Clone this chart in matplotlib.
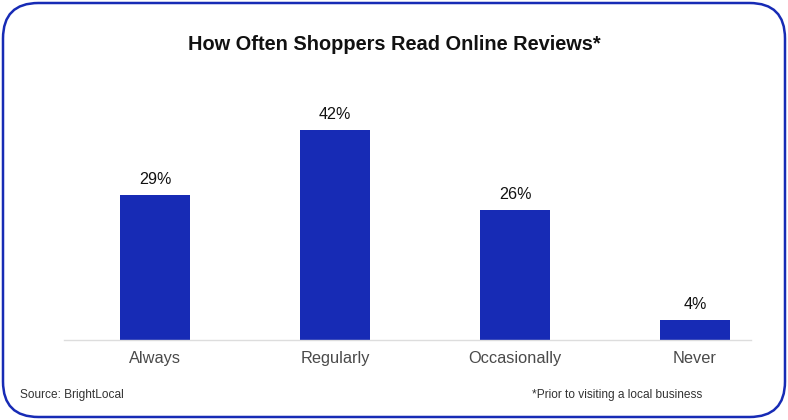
import matplotlib.pyplot as plt
from matplotlib.patches import FancyBboxPatch

categories = ['Always', 'Regularly', 'Occasionally', 'Never']
shares = [29, 42, 26, 4]
value_labels = ['29%', '42%', '26%', '4%']

bar_color = '#172BB5'
plt.rcParams['font.family'] = ['Liberation Sans', 'DejaVu Sans']

fig = plt.figure(figsize=(7.88, 4.2), dpi=100)

# rounded frame around the whole card
frame = FancyBboxPatch((3/788, 3/420), 782/788, 414/420,
                       boxstyle='round,pad=0,rounding_size=0.045',
                       transform=fig.transFigure, facecolor='white',
                       edgecolor=bar_color, linewidth=1.8,
                       mutation_aspect=788/420, zorder=-5)
fig.patches.append(frame)

ax = fig.add_axes([64/788, 80/420, 687/788, 250/420])
ax.patch.set_alpha(0)
x = list(range(len(categories)))
ax.bar(x, shares, width=70/180, color=bar_color)
ax.set_xlim(-0.506, 3.311)
ax.set_ylim(0, 50)

for xi, v, lab in zip(x, shares, value_labels):
    ax.annotate(lab, (xi, v), xytext=(0, 11.5), textcoords='offset points',
                ha='center', va='center', fontsize=11.6, color='#111111')

ax.set_xticks(x)
ax.set_xticklabels(categories, fontsize=11.8, color='#4a4a4a')
ax.tick_params(axis='x', length=0, pad=8)
ax.set_yticks([])
for side in ['left', 'right', 'top']:
    ax.spines[side].set_visible(False)
ax.spines['bottom'].set_color('#dddddd')
ax.spines['bottom'].set_linewidth(1)

fig.text(394/788, 1 - 45/420, 'How Often Shoppers Read Online Reviews*',
         ha='center', va='center', fontsize=14.4, fontweight='bold', color='#111111')
fig.text(20/788, 1 - 395/420, 'Source: BrightLocal', ha='left', va='center',
         fontsize=8.6, color='#333333')
fig.text(702/788, 1 - 395/420, '*Prior to visiting a local business', ha='right',
         va='center', fontsize=8.6, color='#333333')

fig.savefig('out.png', dpi=100)
